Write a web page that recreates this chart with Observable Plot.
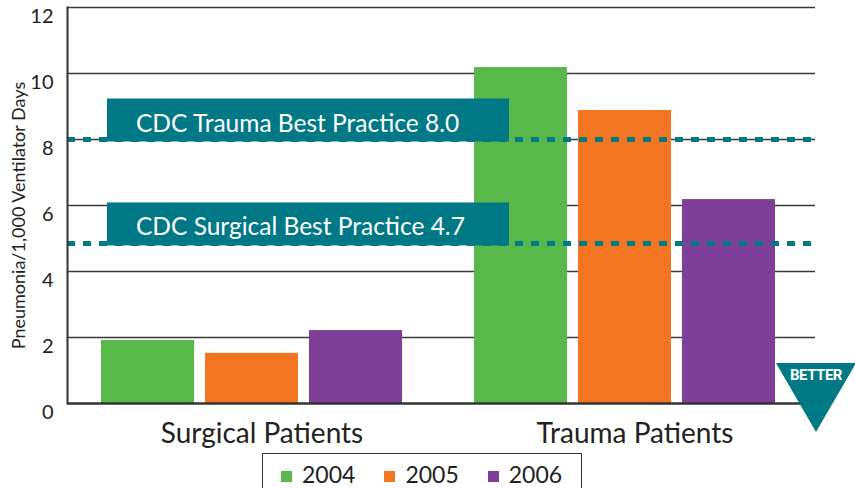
<!DOCTYPE html>
<html><head><meta charset="utf-8">
<script src="https://cdn.jsdelivr.net/npm/d3@7"></script>
<script src="https://cdn.jsdelivr.net/npm/@observablehq/plot@0.6"></script>
<style>
body{margin:0;background:#fff;font-family:Lato,"Open Sans",sans-serif;}
#chart svg{display:block;}
#legend{margin-left:262px;width:320px;height:40px;border:1.5px solid #333;border-bottom:none;box-sizing:border-box;display:flex;align-items:center;padding-left:18px;gap:29px;font-size:23px;color:#222;}
#legend .item{display:flex;align-items:center;gap:10px;}
#legend .sw{width:11px;height:11px;display:inline-block;margin-top:6px;}
</style></head><body>
<div id="chart"></div><div id="legend"></div>
<script>
const groups = ["Surgical Patients", "Trauma Patients"];
const years = ["2004", "2005", "2006"];
const surgicalValues = [1.91, 1.52, 2.21];
const traumaValues = [10.18, 8.88, 6.18];
const yearColors = ["#58b84a", "#f37521", "#7e3f98"];
const yTicks = [0, 2, 4, 6, 8, 10, 12];
const benchmarkLabels = ["CDC Trauma Best Practice 8.0", "CDC Surgical Best Practice 4.7"];
const benchmarkValues = [8.0, 4.85];
const yLabel = "Pneumonia/1,000 Ventilator Days";
const teal = "#007886";

const data = [];
years.forEach((yr, i) => {
  data.push({group: groups[0], year: yr, value: surgicalValues[i]});
  data.push({group: groups[1], year: yr, value: traumaValues[i]});
});

const W = 855, H = 453, mL = 67, mR = 40, mT = 7, mB = 50;
const groupPad = {paddingInner: 0.1925, paddingOuter: 0.0963, align: 0.458};
// sub-band layout of years inside each group band
const gb = d3.scaleBand(groups, [mL, W - mR]).paddingInner(groupPad.paddingInner).paddingOuter(groupPad.paddingOuter).align(groupPad.align);
const sub = d3.scaleBand(years, [0, gb.bandwidth()]).paddingInner(0.0962).paddingOuter(0);

const barMarks = years.map(yr => Plot.barY(data.filter(d => d.year === yr), {
  x: "group", y: "value", fill: "year",
  insetLeft: sub(yr), insetRight: gb.bandwidth() - sub(yr) - sub.bandwidth()
}));

const plot = Plot.plot({
  width: W, height: H,
  marginLeft: mL, marginRight: mR, marginTop: mT, marginBottom: mB,
  style: {fontFamily: "Lato, 'Open Sans', sans-serif", color: "#222", background: "#fff"},
  x: {domain: groups, ...groupPad, label: null},
  y: {domain: [0, 12], axis: null},
  color: {domain: years, range: yearColors},
  marks: [
    Plot.ruleY(yTicks.filter(d => d > 0), {stroke: "#3a3a3a", strokeWidth: 1.6}),
    ...barMarks,
    Plot.ruleY(benchmarkValues, {stroke: teal, strokeWidth: 5, strokeDasharray: "8,8"}),
    Plot.ruleY([0], {stroke: "#333", strokeWidth: 2.5}),
    Plot.frame({anchor: "left", stroke: "#333", strokeWidth: 2}),
    Plot.text(yTicks, {y: d => d, text: d => String(d), frameAnchor: "left", textAnchor: "end", dx: -14, dy: 9, fontSize: 20, fill: "#222"}),
    Plot.text([yLabel], {frameAnchor: "left", textAnchor: "middle", rotate: -90, dx: -43, dy: 10, lineAnchor: "bottom", fontSize: 18, fill: "#222"}),
    Plot.axisX({tickSize: 0, tickPadding: 20, fontSize: 28, dx: 10, label: null, fill: "#222"})
  ]
});
document.getElementById("chart").appendChild(plot);

// annotation boxes on benchmark lines
const ys = plot.scale("y");
const svg = d3.select(plot);
const ann = svg.append("g");
const left = mL + 40;
benchmarkLabels.forEach((t, i) => {
  const ly = ys.apply(benchmarkValues[i]);
  const bottom = ly + 2.5;
  ann.append("rect").attr("x", left).attr("y", bottom - 43).attr("width", 402).attr("height", 43).attr("fill", teal);
  ann.append("text").attr("x", left + 29).attr("y", bottom - 10).attr("fill", "#fff").attr("text-anchor", "start")
    .attr("font-size", 24.5).attr("font-family", "Lato, 'Open Sans', sans-serif").text(t);
});

// BETTER marker
const y0 = ys.apply(0), xr = W - mR;
ann.append("polygon").attr("points", `${xr-39},${y0-40} ${xr+41},${y0-40} ${xr+1},${y0+29}`).attr("fill", teal);
ann.append("text").attr("x", xr + 1).attr("y", y0 - 23).attr("text-anchor", "middle").attr("fill", "#fff")
  .attr("font-size", 15).attr("font-weight", "bold").attr("font-family", "Roboto, sans-serif").attr("letter-spacing", -0.5).text("BETTER");

// legend
const lg = d3.select("#legend");
years.forEach((yr, i) => {
  const it = lg.append("div").attr("class", "item");
  it.append("span").attr("class", "sw").style("background", yearColors[i]);
  it.append("span").text(yr);
});
</script>
</body></html>
